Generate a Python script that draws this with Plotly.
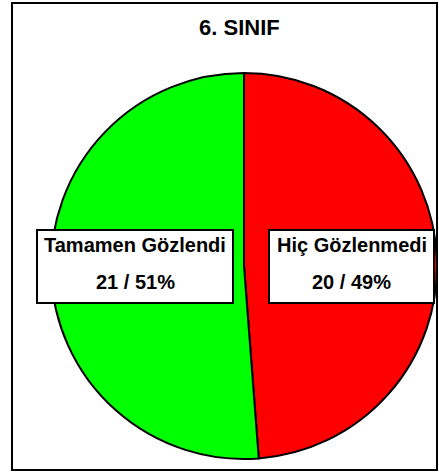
import plotly.graph_objects as go

categories = ["Hiç Gözlenmedi", "Tamamen Gözlendi"]
values = [20, 21]
colors = ["#FF0000", "#00FF00"]
title_text = "6. SINIF"

W, H = 439, 472

def px(x):
    return x / W

def py(y):
    return 1 - y / H

total = sum(values)
pcts = [round(v * 100 / total) for v in values]

fig = go.Figure()
fig.add_trace(go.Pie(
    labels=categories,
    values=values,
    sort=False,
    direction="clockwise",
    rotation=0,
    marker=dict(colors=colors, line=dict(color="black", width=2)),
    textinfo="none",
    hoverinfo="label+value+percent",
    showlegend=False,
    domain=dict(x=[px(51), px(437)], y=[py(460), py(72)]),
))

shapes = [
    dict(type="rect", xref="paper", yref="paper",
         x0=px(12), x1=px(437), y0=py(470), y1=py(3),
         line=dict(color="black", width=2), fillcolor="rgba(0,0,0,0)", layer="above"),
    dict(type="rect", xref="paper", yref="paper",
         x0=px(37), x1=px(233), y0=py(303), y1=py(230),
         line=dict(color="black", width=2), fillcolor="white", layer="above"),
    dict(type="rect", xref="paper", yref="paper",
         x0=px(269), x1=px(434), y0=py(303), y1=py(230),
         line=dict(color="black", width=2), fillcolor="white", layer="above"),
]

fam = "Liberation Sans, Arial, sans-serif"
font_b = dict(family=fam, size=20, color="black")
annotations = [
    dict(text="<b>%s</b>" % title_text, x=px(239), y=py(28), xref="paper", yref="paper",
         showarrow=False, font=dict(family=fam, size=22, color="black"),
         xanchor="center", yanchor="middle"),
    dict(text="<b>%s</b>" % categories[1], x=px(135), y=py(245), xref="paper", yref="paper",
         showarrow=False, font=font_b, xanchor="center", yanchor="middle"),
    dict(text="<b>%d / %d%%</b>" % (values[1], pcts[1]), x=px(135), y=py(282), xref="paper", yref="paper",
         showarrow=False, font=font_b, xanchor="center", yanchor="middle"),
    dict(text="<b>%s</b>" % categories[0], x=px(351.5), y=py(245), xref="paper", yref="paper",
         showarrow=False, font=font_b, xanchor="center", yanchor="middle"),
    dict(text="<b>%d / %d%%</b>" % (values[0], pcts[0]), x=px(351.5), y=py(282), xref="paper", yref="paper",
         showarrow=False, font=font_b, xanchor="center", yanchor="middle"),
]

fig.update_layout(
    width=W, height=H,
    margin=dict(l=0, r=0, t=0, b=0),
    paper_bgcolor="white",
    plot_bgcolor="white",
    shapes=shapes,
    annotations=annotations,
)

fig.write_html("out.html", config={"displayModeBar": False},
               post_script="document.body.style.margin='0';document.body.style.overflow='hidden';")
